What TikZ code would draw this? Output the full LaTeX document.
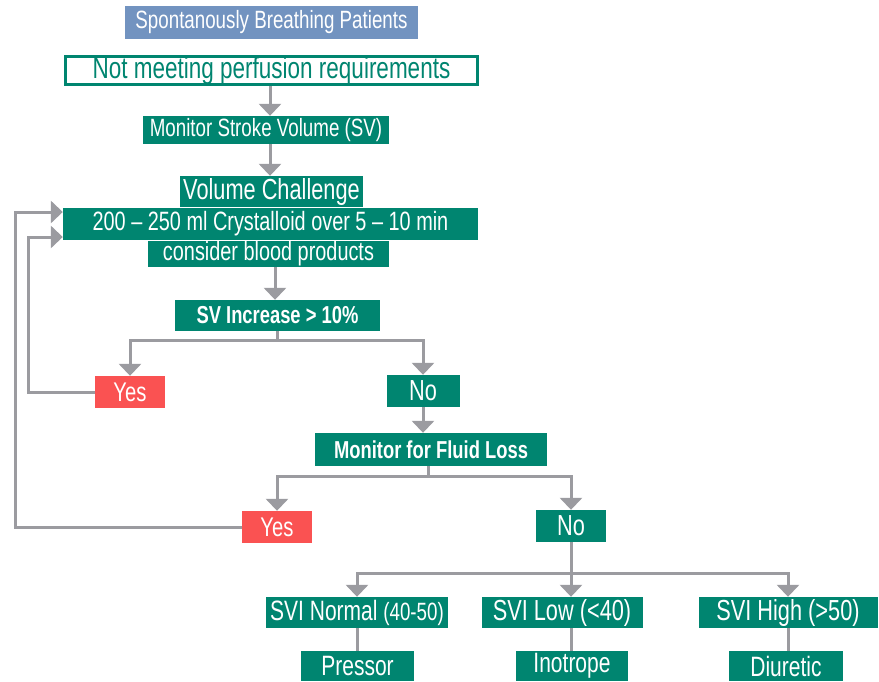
\documentclass[tikz,border=0pt]{standalone}
\usepackage{fontspec}
\setmainfont{Liberation Sans}[FakeStretch=0.75]
\usetikzlibrary{arrows.meta}
\definecolor{tealb}{RGB}{0,133,112}
\definecolor{redb}{RGB}{250,82,82}
\definecolor{grayl}{RGB}{155,155,160}
\definecolor{titleb}{RGB}{114,147,192}
\newcommand{\fs}[1]{\fontsize{#1}{#1}\selectfont}
\begin{document}
\begin{tikzpicture}[x=1pt,y=-1pt,
  box/.style={fill=tealb, text=white, inner sep=0pt},
  ybox/.style={fill=redb, text=white, inner sep=0pt},
  conn/.style={draw=grayl, line width=3pt},
  arr/.style={conn, -{Triangle[width=22pt,length=12pt]}},
]
\useasboundingbox (0,0) rectangle (879,681);

\node[fill=titleb, text=white, inner sep=0pt, minimum width=293pt, minimum height=33pt] (title) at (271.5,22.5) {\fs{25}Spontanously Breathing Patients};
\node[draw=tealb, line width=3pt, fill=white, text=tealb, inner sep=0pt, minimum width=412pt, minimum height=28pt] (notmeet) at (271.5,70.5) {\fs{30}Not meeting perfusion requirements};
\node[box, minimum width=246pt, minimum height=28pt] (monsv) at (266,130) {\fs{25}Monitor Stroke Volume (SV)};
\node[box, minimum width=183pt, minimum height=31pt] (volch) at (271.5,191.5) {\fs{29}Volume Challenge};
\node[box, minimum width=415pt, minimum height=32pt] (crys) at (270.5,224) {\fs{26.5}200 – 250 ml Crystalloid over 5 – 10 min};
\node[box, minimum width=241pt, minimum height=26pt] (blood) at (268.5,254) {\fs{26.5}consider blood products};
\node[box, minimum width=205pt, minimum height=31pt] (svinc) at (277.5,315.5) {\fs{24.5}\bfseries SV Increase > 10\%};
\node[ybox, minimum width=70pt, minimum height=32pt] (yes1) at (130,392) {\fs{27}Yes};
\node[box, minimum width=73pt, minimum height=32pt] (no1) at (423,391) {\fs{29}No};
\node[box, minimum width=232pt, minimum height=33pt] (mfl) at (431,449.5) {\fs{24.5}\bfseries Monitor for Fluid Loss};
\node[ybox, minimum width=70pt, minimum height=32pt] (yes2) at (277,527) {\fs{27}Yes};
\node[box, minimum width=70pt, minimum height=32pt] (no2) at (571,526) {\fs{29}No};
\node[box, minimum width=182pt, minimum height=31pt] (svin) at (357,612.5) {\fs{28}SVI Normal {\fs{25}(40-50)}};
\node[box, minimum width=161pt, minimum height=31pt] (svil) at (562,612.5) {\fs{29}SVI Low (<40)};
\node[box, minimum width=179pt, minimum height=31pt] (svih) at (788,612.5) {\fs{29}SVI High (>50)};
\node[box, minimum width=113pt, minimum height=30pt] (press) at (357.5,666) {\fs{28}Pressor};
\node[box, minimum width=112pt, minimum height=30pt] (inot) at (572,666) {\fs{28}Inotrope};
\node[box, minimum width=114pt, minimum height=30pt] (diur) at (786,666) {\fs{28}Diuretic};

\coordinate (c1) at (270,0);
\coordinate (c2) at (275,0);
\draw[arr] (notmeet.south -| c1) -- (monsv.north -| c1);
\draw[arr] (monsv.south -| c1) -- (volch.north -| c1);
\draw[arr] (blood.south -| c2) -- (svinc.north -| c2);

\coordinate (j1) at (277.5,340);
\draw[conn] (svinc.south) -- (j1);
\draw[arr] (j1) -| (yes1.north);
\draw[arr] (j1) -| (no1.north);
\draw[arr] (no1.south) -- (no1.south |- mfl.north);

\coordinate (j2) at (428,476);
\draw[conn] (mfl.south -| j2) -- (j2);
\draw[arr] (j2) -| (yes2.north);
\draw[arr] (j2) -| (no2.north);

\coordinate (j3) at (571,573);
\draw[conn] (no2.south) -- (j3);
\draw[arr] (j3) -| (svin.north);
\draw[arr] (j3) -- (j3 |- svil.north);
\draw[arr] (j3) -| (svih.north);
\draw[conn] (svin.south) -- (svin.south |- press.north);
\draw[conn] (svil.south -| j3) -- (j3 |- inot.north);
\draw[conn] (svih.south) -- (svih.south |- diur.north);

\coordinate (fb1) at (28,237);
\coordinate (fb2) at (15,212);
\draw[arr] (yes1.west) -| (fb1) -- (fb1 -| crys.west);
\draw[arr] (yes2.west) -| (fb2) -- (fb2 -| crys.west);
\end{tikzpicture}
\end{document}
